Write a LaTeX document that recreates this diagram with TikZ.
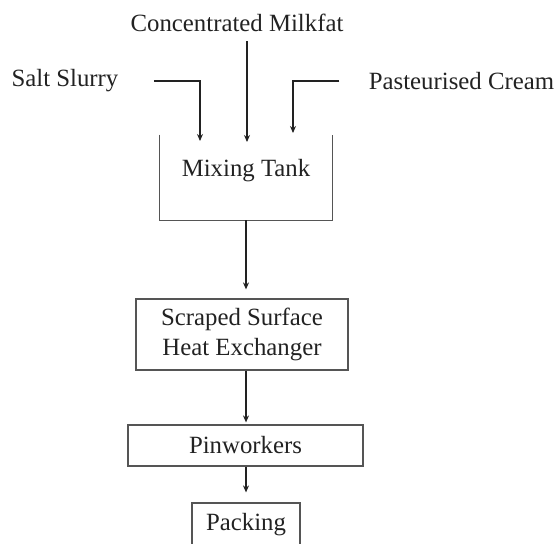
\documentclass[tikz,border=0pt]{standalone}
\usepackage{fontspec}
\setmainfont{Liberation Serif}
\usepackage{xcolor}
\definecolor{inkdark}{HTML}{222222}
\definecolor{inkbox}{HTML}{555555}
\usetikzlibrary{positioning}
\usetikzlibrary{arrows.meta}

\begin{document}
\begin{tikzpicture}[
  x=0.5pt, y=-0.5pt,
  font=\fontsize{12.4}{15}\selectfont,
  txt/.style={inner sep=0pt, text=inkdark},
  pnode/.style={draw=inkbox, line width=0.6pt, align=center, inner sep=2pt,
                text=inkdark},
  vessel/.style={minimum width=86pt, minimum height=42.5pt, inner sep=0pt},
  wall/.style={draw=inkbox, line width=0.6pt},
  arr/.style={-{Stealth[length=3.5pt, width=3pt]}, line width=0.75pt, color=inkdark}
]
  \clip (0,0) rectangle (557,543);

  % inputs
  \node[txt] (cmf)   at (237,23)   {Concentrated Milkfat};
  \node[txt] (salt)  at (65,81)    {Salt Slurry};
  \node[txt] (cream) at (461.5,81) {Pasteurised Cream};

  % mixing tank (open top)
  \node[vessel, label={[yshift=3.25pt, text=inkdark]center:Mixing Tank}] (tank) at (246,177.5) {};
  \draw[wall] (tank.north west) -- (tank.south west) -- (tank.south east) -- (tank.north east);

  \coordinate (saltin)  at (200,141);
  \coordinate (fatin)   at (247,142);
  \coordinate (creamin) at (293,133);

  \draw[arr] ([xshift=17.5pt]salt.east) -| (saltin);
  \draw[arr, shorten <=4.5pt] (cmf.south -| fatin) -- (fatin);
  \draw[arr] ([xshift=-14.5pt]cream.west) -| (creamin);

  % process line
  \node[pnode, minimum width=106pt, minimum height=35.5pt] (sshe) at (242,334.5)
       {Scraped Surface\\Heat Exchanger};
  \node[pnode, minimum width=117.5pt, minimum height=20.5pt] (pinw) at (245.5,445.5)
       {Pinworkers};
  \node[pnode, minimum width=54pt, minimum height=22pt] (pack) at (246,525)
       {Packing};

  \draw[arr, shorten >=4.5pt] (tank.south) -- (tank.south |- sshe.north);
  \draw[arr, shorten >=1pt] (sshe.south -| tank.south) -- (pinw.north -| tank.south);
  \draw[arr, shorten >=5pt] (pinw.south -| tank.south) -- (pack.north -| tank.south);
\end{tikzpicture}
\end{document}
